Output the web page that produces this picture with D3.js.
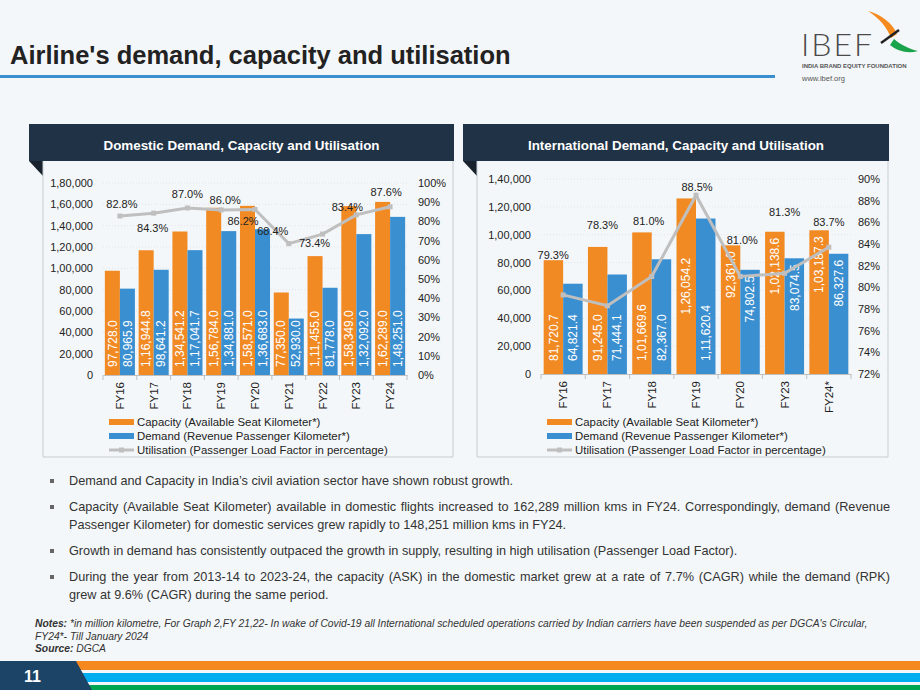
<!DOCTYPE html>
<html>
<head>
<meta charset="utf-8">
<script src="https://cdn.jsdelivr.net/npm/d3@7"></script>
<style>
  body { margin: 0; background: #f4f7f9; font-family: "Liberation Sans", Arial, sans-serif; }
  #page { position: relative; width: 920px; height: 690px; overflow: hidden; }
  #page svg { position: absolute; left: 0; top: 0; }
  .bullets { position: absolute; left: 69px; top: 472px; width: 821px; font-size: 12.7px; line-height: 18px; color: #333; }
  .bullets p { margin: 0 0 8px 0; text-align: justify; position: relative; }
  .bullets p::before { content: ""; position: absolute; left: -19px; top: 7px; width: 4px; height: 4px; background: #666; }
</style>
</head>
<body>
<div id="page"></div>
<script>
// ---- data ----
const domYears = ["FY16", "FY17", "FY18", "FY19", "FY20", "FY21", "FY22", "FY23", "FY24"];
const domCapacity = [97728.0, 116944.8, 134541.2, 156784.0, 158571.0, 77350.0, 111455.0, 158349.0, 162289.0];
const domDemand = [80965.9, 98641.2, 117041.7, 134881.0, 136683.0, 52930.0, 81778.0, 132092.0, 148251.0];
const domUtil = [82.8, 84.3, 87.0, 86.0, 86.2, 68.4, 73.4, 83.4, 87.6];
const domLeftTicks = [0, 20000, 40000, 60000, 80000, 100000, 120000, 140000, 160000, 180000];
const domRightTicks = [0, 10, 20, 30, 40, 50, 60, 70, 80, 90, 100];

const intlYears = ["FY16", "FY17", "FY18", "FY19", "FY20", "FY23", "FY24*"];
const intlCapacity = [81720.7, 91245.0, 101669.6, 126054.2, 92361.0, 102138.6, 103187.3];
const intlDemand = [64821.4, 71444.1, 82367.0, 111620.4, 74802.5, 83074.5, 86327.6];
const intlUtil = [79.3, 78.3, 81.0, 88.5, 81.0, 81.3, 83.7];
const intlLeftTicks = [0, 20000, 40000, 60000, 80000, 100000, 120000, 140000];
const intlRightTicks = [72, 74, 76, 78, 80, 82, 84, 86, 88, 90];

// label placement (as in the original slide)
const domUtilLabelOffset = [[2, -12], [-1, 15], [0, -14], [4, -10], [-12, 12], [-16, -13], [-8, 9], [-9, -8], [-4, -15]];
const intlUtilLabelOffset = [[-10, -40], [-5, -81], [-3, -55], [1, -8], [2, -36], [0, -61], [0, -25]];
const intlCapLabelAt = ["base", "base", "base", "mid", "end", "end", "end"];
const intlDemLabelAt = ["base", "base", "base", "base", "end", "end", "end"];

const legendNames = ["Capacity (Available Seat Kilometer*)", "Demand (Revenue Passenger Kilometer*)", "Utilisation (Passenger Load Factor in percentage)"];

const bullets = [
  "Demand and Capacity in India\u2019s civil aviation sector have shown robust growth.",
  "Capacity (Available Seat Kilometer) available in domestic flights increased to 162,289 million kms in FY24. Correspondingly, demand (Revenue Passenger Kilometer) for domestic services grew rapidly to 148,251 million kms in FY24.",
  "Growth in demand has consistently outpaced the growth in supply, resulting in high utilisation (Passenger Load Factor).",
  "During the year from 2013-14 to 2023-24, the capacity (ASK) in the domestic market grew at a rate of 7.7% (CAGR) while the demand (RPK) grew at 9.6% (CAGR) during the same period."
];

const orange = "#f28a24", blue = "#3a8fd1", grey = "#bfbfbf", navy = "#203246";

// indian digit grouping: 1,16,944.8
function fmtIN(v, dec) {
  const parts = v.toFixed(dec).split(".");
  let head = parts[0].slice(0, -3), tail = parts[0].slice(-3);
  if (head) tail = "," + tail;
  head = head.replace(/\B(?=(\d{2})+(?!\d))/g, ",");
  return head + tail + (parts[1] ? "." + parts[1] : "");
}

const page = d3.select("#page");
const svg = page.append("svg").attr("width", 920).attr("height", 690)
    .style("font-family", "'Liberation Sans', Arial, sans-serif");

// ---- slide header ----
svg.append("text")
    .attr("x", 10).attr("y", 64)
    .attr("font-size", "25.5px").attr("font-weight", "bold").attr("fill", "#222")
    .text("Airline's demand, capacity and utilisation");
svg.append("rect").attr("x", 0).attr("y", 75).attr("width", 775).attr("height", 3).attr("fill", "#3a8fd1");

// logo
const logo = svg.append("g");
logo.append("text").attr("x", 801).attr("y", 56)
    .attr("font-family", "Lato, 'Liberation Sans', sans-serif").attr("font-weight", 300)
    .attr("font-size", "32px").attr("letter-spacing", "2px").attr("fill", "#4a4a4a").text("IBEF");
logo.append("path").attr("d", "M868,11 C881,14 893,24 897,34 L891,38 C887,27 879,18 868,11 Z").attr("fill", "#f58a1f");
logo.append("path").attr("d", "M894,39 C901,45 910,49 918,51 C908,54 897,51 890,45 Z").attr("fill", "#1aa34a");
logo.append("line").attr("x1", 881).attr("y1", 43).attr("x2", 899).attr("y2", 30).attr("stroke", "#222").attr("stroke-width", 2.5);
logo.append("text").attr("x", 802).attr("y", 68).attr("font-size", "6px").attr("font-weight", "bold")
    .attr("fill", "#555").text("INDIA BRAND EQUITY FOUNDATION");
logo.append("text").attr("x", 802).attr("y", 81).attr("font-size", "7.5px").attr("fill", "#555").text("www.ibef.org");

// ---- one chart panel ----
function drawPanel(cfg) {
  const g = svg.append("g");

  // panel frame
  g.append("rect").attr("x", cfg.headX).attr("y", 124).attr("width", cfg.headW).attr("height", 37).attr("fill", navy);
  g.append("text").attr("x", cfg.headX + cfg.headW / 2).attr("y", 149.5)
      .attr("text-anchor", "middle").attr("font-size", "13.4px").attr("font-weight", "bold").attr("fill", "#fff")
      .text(cfg.title);
  g.append("path").attr("d", `M${cfg.headX},161 L${cfg.bodyX},161 L${cfg.bodyX},176 Z`).attr("fill", "#17222c");
  g.append("path")
      .attr("d", `M${cfg.bodyX},161 V457 H${cfg.headX + cfg.headW - 1} V161`)
      .attr("fill", "none").attr("stroke", "#c6cdd3").attr("stroke-width", 1);

  const x = d3.scaleBand().domain(cfg.years).range(cfg.xRange).paddingInner(cfg.pad).paddingOuter(cfg.pad / 2);
  const x1 = d3.scaleBand().domain(["cap", "dem"]).range([0, x.bandwidth()]);
  const y = d3.scaleLinear().domain([0, cfg.yMax]).range(cfg.yRange);
  const yR = d3.scaleLinear().domain(cfg.rDomain).range(cfg.yRange);

  // faint grid
  g.append("g").selectAll("line").data(cfg.leftTicks.slice(1)).join("line")
      .attr("x1", cfg.xRange[0]).attr("x2", cfg.xRange[1])
      .attr("y1", d => y(d)).attr("y2", d => y(d))
      .attr("stroke", "#e2e6ea").attr("stroke-dasharray", "1,2");

  // axes
  const left = g.append("g").attr("transform", `translate(${cfg.leftX},0)`)
      .call(d3.axisLeft(y).tickValues(cfg.leftTicks).tickSize(0).tickPadding(0).tickFormat(d => fmtIN(d, 0)));
  const right = g.append("g").attr("transform", `translate(${cfg.rightX},0)`)
      .call(d3.axisRight(yR).tickValues(cfg.rightTicks).tickSize(0).tickPadding(0).tickFormat(d => d + "%"));
  [left, right].forEach(a => {
    a.select(".domain").remove();
    a.selectAll("text").attr("font-size", "11px").attr("fill", "#222").attr("font-family", "'Liberation Sans', Arial, sans-serif");
  });

  // bars
  const rows = cfg.years.map((yr, i) => ({ yr, i, cap: cfg.capacity[i], dem: cfg.demand[i] }));
  const grp = g.append("g").selectAll("g").data(rows).join("g")
      .attr("transform", d => `translate(${x(d.yr)},0)`);
  const series = [["cap", orange, cfg.capAt], ["dem", blue, cfg.demAt]];
  series.forEach(([key, col, at]) => {
    grp.append("rect")
        .attr("x", x1(key)).attr("width", x1.bandwidth())
        .attr("y", d => y(d[key])).attr("height", d => y(0) - y(d[key]))
        .attr("fill", col);
    grp.append("text")
        .attr("transform", d => {
          const cx = x1(key) + x1.bandwidth() / 2;
          const pos = at[d.i];
          const ty = pos === "end" ? y(d[key]) + 6 : pos === "mid" ? (y(0) + y(d[key])) / 2 : y(0) - cfg.baseGap;
          return `translate(${cx},${ty}) rotate(-90)`;
        })
        .attr("text-anchor", d => at[d.i] === "end" ? "end" : at[d.i] === "mid" ? "middle" : "start")
        .attr("dy", "0.35em")
        .attr("font-size", "12px").attr("fill", "#fff")
        .text(d => fmtIN(d[key], 1));
  });

  // x axis
  const xa = g.append("g").attr("transform", `translate(0,${cfg.yRange[0]})`)
      .call(d3.axisBottom(x).tickSize(0).tickSizeOuter(0));
  xa.select(".domain").attr("stroke", "#bfbfbf");
  xa.selectAll(".tick text")
      .attr("transform", "translate(0,7) rotate(-90)")
      .attr("text-anchor", "end").attr("dy", "0.35em").attr("y", 0)
      .attr("font-size", "11.5px").attr("fill", "#222").attr("font-family", "'Liberation Sans', Arial, sans-serif");
  const n = cfg.years.length;
  xa.append("g").selectAll("line").data(d3.range(n + 1)).join("line")
      .attr("x1", k => cfg.xRange[0] + (cfg.xRange[1] - cfg.xRange[0]) * k / n)
      .attr("x2", k => cfg.xRange[0] + (cfg.xRange[1] - cfg.xRange[0]) * k / n)
      .attr("y1", 0).attr("y2", 5).attr("stroke", "#bfbfbf");

  // utilisation line
  const cx = d => x(d.yr) + x.bandwidth() / 2;
  const pts = cfg.years.map((yr, i) => ({ yr, i, v: cfg.util[i] }));
  g.append("path").datum(pts)
      .attr("d", d3.line().x(cx).y(d => yR(d.v)))
      .attr("fill", "none").attr("stroke", grey).attr("stroke-width", 3);
  g.append("g").selectAll("rect").data(pts).join("rect")
      .attr("x", d => cx(d) - 2.5).attr("y", d => yR(d.v) - 2.5)
      .attr("width", 5).attr("height", 5).attr("fill", grey);
  g.append("g").selectAll("text").data(pts).join("text")
      .attr("x", d => cx(d) + cfg.utilOffset[d.i][0])
      .attr("y", d => yR(d.v) + cfg.utilOffset[d.i][1])
      .attr("dy", "0.35em").attr("text-anchor", "middle")
      .attr("font-size", "11px").attr("fill", "#222")
      .text(d => d.v.toFixed(1) + "%");

  // legend
  const lg = g.append("g").attr("transform", `translate(${cfg.legendX},0)`);
  const ly = [422, 436, 450];
  lg.append("rect").attr("x", 0).attr("y", ly[0] - 3).attr("width", 25).attr("height", 6).attr("fill", orange);
  lg.append("rect").attr("x", 0).attr("y", ly[1] - 3).attr("width", 25).attr("height", 6).attr("fill", blue);
  lg.append("line").attr("x1", 0).attr("x2", 25).attr("y1", ly[2]).attr("y2", ly[2]).attr("stroke", grey).attr("stroke-width", 3);
  lg.append("rect").attr("x", 10).attr("y", ly[2] - 2.5).attr("width", 5).attr("height", 5).attr("fill", grey);
  lg.selectAll("text.lab").data(legendNames).join("text")
      .attr("x", 28).attr("y", (d, i) => ly[i]).attr("dy", "0.35em")
      .attr("font-size", "11.4px").attr("fill", "#222").text(d => d);
}

drawPanel({
  title: "Domestic Demand, Capacity and Utilisation",
  headX: 29, headW: 425, bodyX: 43,
  years: domYears, capacity: domCapacity, demand: domDemand, util: domUtil,
  yMax: 180000, rDomain: [0, 100], yRange: [375, 183], xRange: [103, 407], pad: 0.11,
  leftTicks: domLeftTicks, rightTicks: domRightTicks, leftX: 93, rightX: 418,
  capAt: domYears.map(() => "base"), demAt: domYears.map(() => "base"), baseGap: 8,
  utilOffset: domUtilLabelOffset, legendX: 109
});

drawPanel({
  title: "International Demand, Capacity and Utilisation",
  headX: 463, headW: 426, bodyX: 477,
  years: intlYears, capacity: intlCapacity, demand: intlDemand, util: intlUtil,
  yMax: 140000, rDomain: [72, 90], yRange: [374, 179], xRange: [541, 851], pad: 0.12,
  leftTicks: intlLeftTicks, rightTicks: intlRightTicks, leftX: 531, rightX: 858,
  capAt: intlCapLabelAt, demAt: intlDemLabelAt, baseGap: 13,
  utilOffset: intlUtilLabelOffset, legendX: 547
});

// ---- bullet text ----
page.append("div").attr("class", "bullets")
    .selectAll("p").data(bullets).join("p").text(d => d);

// ---- notes ----
const notes = svg.append("g").attr("font-size", "10.3px").attr("font-style", "italic").attr("fill", "#333");
const n1 = notes.append("text").attr("x", 35).attr("y", 627);
n1.append("tspan").attr("font-weight", "bold").text("Notes: ");
n1.append("tspan").text("*in million kilometre, For Graph 2,FY 21,22- In wake of Covid-19 all International scheduled operations carried by Indian carriers have been suspended as per DGCA's Circular,");
notes.append("text").attr("x", 35).attr("y", 640).text("FY24*- Till January 2024");
const n3 = notes.append("text").attr("x", 35).attr("y", 652);
n3.append("tspan").attr("font-weight", "bold").text("Source: ");
n3.append("tspan").text("DGCA");

// ---- footer ----
const foot = svg.append("g");
foot.append("rect").attr("x", 60).attr("y", 661).attr("width", 860).attr("height", 9).attr("fill", "#f5891f");
foot.append("rect").attr("x", 60).attr("y", 673).attr("width", 860).attr("height", 9).attr("fill", "#00aeef");
foot.append("rect").attr("x", 60).attr("y", 685).attr("width", 860).attr("height", 5).attr("fill", "#00a651");
foot.append("path").attr("d", "M0,661 L76,661 L92,690 L0,690 Z").attr("fill", "#1c4466");
foot.append("text").attr("x", 24).attr("y", 682).attr("font-size", "16px").attr("font-weight", "bold")
    .attr("fill", "#fff").text("11");
</script>
</body>
</html>
